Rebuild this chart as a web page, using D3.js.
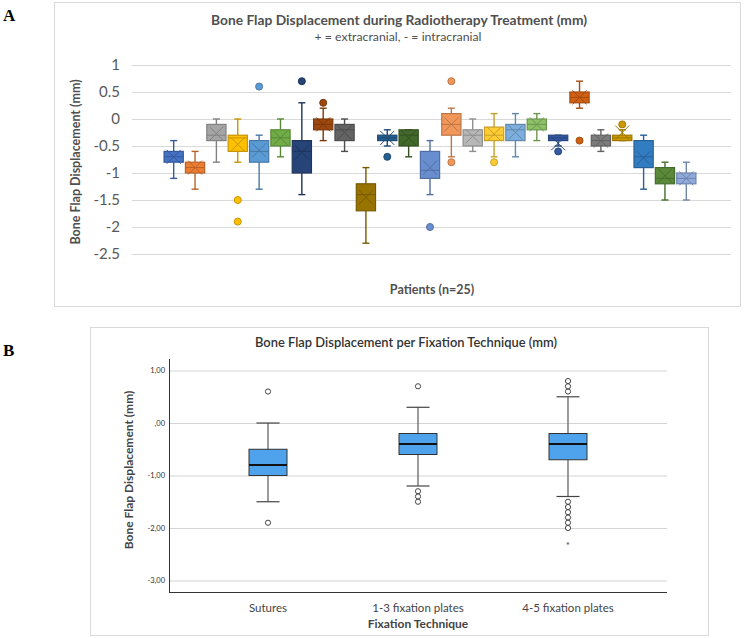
<!DOCTYPE html>
<html lang="en">
<head>
<meta charset="UTF-8">
<title>Bone Flap Displacement</title>
<script src="https://d3js.org/d3.v7.min.js"></script>
<style>
  body { margin: 0; background: #fff; }
  svg { display: block; font-family: Lato, "Open Sans", sans-serif; }
  .panel-letter { font-family: "Liberation Serif", "DejaVu Serif", serif; font-weight: bold; font-size: 17px; fill: #000; }
</style>
</head>
<body>
<svg id="chart" width="745" height="638"></svg>
<script>
// ---- Panel A data: one box per patient ----
const patients = d3.range(1, 26).map(String);
const whiskerLow  = [-1.1, -1.3, -0.8, -0.8, -1.3, -0.7, -1.4, -0.4, -0.6, -2.3, -0.5, -0.7, -1.4, -0.7, -0.6, -0.7, -0.7, -0.4, -0.5, 0.2, -0.6, -0.4, -1.3, -1.5, -1.5];
const q1          = [-0.8, -1.0, -0.4, -0.6, -0.8, -0.5, -1.0, -0.2, -0.4, -1.7, -0.4, -0.5, -1.1, -0.3, -0.5, -0.4, -0.4, -0.2, -0.4, 0.3, -0.5, -0.4, -0.9, -1.2, -1.2];
const medians     = [-0.7, -0.9, -0.3, -0.35, -0.6, -0.35, -0.6, -0.1, -0.2, -1.4, -0.35, -0.3, -0.95, -0.1, -0.3, -0.3, -0.2, -0.1, -0.35, 0.4, -0.4, -0.35, -0.7, -1.1, -1.1];
const q3          = [-0.6, -0.8, -0.1, -0.3, -0.4, -0.2, -0.4, 0, -0.1, -1.2, -0.3, -0.2, -0.6, 0.1, -0.2, -0.15, -0.1, 0, -0.3, 0.5, -0.3, -0.3, -0.4, -0.9, -1.0];
const whiskerHigh = [-0.4, -0.6, 0, 0, -0.3, 0, 0.3, 0.2, 0, -0.9, -0.2, -0.2, -0.4, 0.2, 0, 0.1, 0.1, 0.1, -0.3, 0.7, -0.2, -0.2, -0.3, -0.8, -0.8];
const means       = [-0.7, -0.9, -0.27, -0.47, -0.58, -0.35, -0.62, -0.1, -0.25, -1.45, -0.35, -0.35, -0.9, -0.1, -0.32, -0.28, -0.25, -0.1, -0.45, 0.4, -0.4, -0.25, -0.72, -1.05, -1.1];
const outliersA   = [[], [], [], [-1.5, -1.9], [0.6], [], [0.7], [0.3], [], [], [-0.7], [], [-2.0], [0.7, -0.8], [], [-0.8], [], [], [-0.6], [-0.4], [], [-0.1], [], [], []];
const ticksA = [1, 0.5, 0, -0.5, -1, -1.5, -2, -2.5];

// ---- Panel B data: one box per fixation technique ----
const techniques = ["Sutures", "1-3 fixation plates", "4-5 fixation plates"];
const bLow    = [-1.5, -1.2, -1.4];
const bQ1     = [-1.0, -0.6, -0.7];
const bMedian = [-0.8, -0.4, -0.4];
const bQ3     = [-0.5, -0.2, -0.2];
const bHigh   = [0, 0.3, 0.5];
const bOutliers = [[0.6, -1.9], [0.7, -1.3, -1.4, -1.5], [0.6, 0.7, 0.8, -1.5, -1.6, -1.7, -1.8, -1.9, -2.0]];
const bExtremes = [[], [], [-2.3]];
const ticksB = [1, 0, -1, -2, -3];
const ticksBLabels = ["1,00", ",00", "-1,00", "-2,00", "-3,00"];

const colorsA = ["#4472C4", "#ED7D31", "#A5A5A5", "#FFC000", "#5B9BD5", "#70AD47",
                 "#264478", "#9E480E", "#636363", "#997300", "#255E91", "#43682B",
                 "#698ED0", "#F1975A", "#B7B7B7", "#FFCD33", "#7CAFDD", "#8CC168",
                 "#335AA1", "#D26012", "#7C7C7C", "#CC9A00", "#327DC2", "#5A8A39", "#8FAADC"];

const svg = d3.select("#chart");
svg.append("rect").attr("width", 745).attr("height", 638).attr("fill", "#fff");

// =================== Panel A ===================
const gA = svg.append("g");
gA.append("rect").attr("x", 54.5).attr("y", 2.5).attr("width", 686).attr("height", 304)
  .attr("fill", "#fff").attr("stroke", "#d9d9d9");
svg.append("text").attr("class", "panel-letter").attr("x", 3).attr("y", 21).text("A");

const yA = d3.scaleLinear().domain([-2.5, 1]).range([254, 65]);
const xA = d3.scaleBand().domain(patients).range([163, 697]).paddingInner(0.1).paddingOuter(0.05);

gA.selectAll(".gridA").data(ticksA).enter().append("line")
  .attr("x1", 132).attr("x2", 731)
  .attr("y1", d => yA(d) + 0.5).attr("y2", d => yA(d) + 0.5)
  .attr("stroke", "#d9d9d9").attr("stroke-width", 1);

gA.selectAll(".tickA").data(ticksA).enter().append("text")
  .attr("x", 120).attr("y", d => yA(d)).attr("dy", "0.36em")
  .attr("text-anchor", "end").attr("font-size", 15).attr("fill", "#595959")
  .text(d => d);

gA.append("text").attr("x", 399).attr("y", 25).attr("text-anchor", "middle")
  .attr("font-size", 13.8).attr("font-weight", "bold").attr("fill", "#505050")
  .text("Bone Flap Displacement during Radiotherapy Treatment (mm)");
gA.append("text").attr("x", 398).attr("y", 41).attr("text-anchor", "middle")
  .attr("font-size", 12.3).attr("fill", "#505050")
  .text("+ = extracranial, - = intracranial");
gA.append("text").attr("transform", "translate(80,162) rotate(-90)").attr("text-anchor", "middle")
  .attr("font-size", 12.5).attr("font-weight", "bold").attr("fill", "#505050")
  .text("Bone Flap Displacement (mm)");
gA.append("text").attr("x", 432).attr("y", 294).attr("text-anchor", "middle")
  .attr("font-size", 12.5).attr("font-weight", "bold").attr("fill", "#505050")
  .text("Patients (n=25)");

const bw = xA.bandwidth();
patients.forEach((p, i) => {
  const cx = xA(p) + bw / 2;
  const c = colorsA[i];
  const dark = d3.color(c).darker(0.7).formatHex();
  const g = gA.append("g");
  // whiskers
  g.append("line").attr("x1", cx).attr("x2", cx).attr("y1", yA(whiskerHigh[i])).attr("y2", yA(q3[i]))
    .attr("stroke", dark).attr("stroke-width", 1.4);
  g.append("line").attr("x1", cx).attr("x2", cx).attr("y1", yA(q1[i])).attr("y2", yA(whiskerLow[i]))
    .attr("stroke", dark).attr("stroke-width", 1.4);
  [whiskerHigh[i], whiskerLow[i]].forEach(v => {
    g.append("line").attr("x1", cx - 3.5).attr("x2", cx + 3.5).attr("y1", yA(v)).attr("y2", yA(v))
      .attr("stroke", dark).attr("stroke-width", 1.4);
  });
  // box
  g.append("rect").attr("x", xA(p)).attr("width", bw)
    .attr("y", yA(q3[i])).attr("height", Math.max(yA(q1[i]) - yA(q3[i]), 1))
    .attr("fill", c).attr("stroke", dark).attr("stroke-width", 1.2);
  g.append("line").attr("x1", xA(p)).attr("x2", xA(p) + bw)
    .attr("y1", yA(medians[i])).attr("y2", yA(medians[i]))
    .attr("stroke", dark).attr("stroke-width", 1);
  // mean marker
  const my = yA(means[i]), s = 7;
  g.append("path").attr("d", `M${cx - s},${my - s}L${cx + s},${my + s}M${cx - s},${my + s}L${cx + s},${my - s}`)
    .attr("stroke", dark).attr("stroke-width", 1).attr("fill", "none");
  // outliers
  g.selectAll("circle").data(outliersA[i]).enter().append("circle")
    .attr("cx", cx).attr("cy", d => yA(d)).attr("r", 3.5)
    .attr("fill", c).attr("stroke", dark).attr("stroke-width", 1);
});

// =================== Panel B ===================
const gB = svg.append("g");
gB.append("rect").attr("x", 90.5).attr("y", 327.5).attr("width", 618).attr("height", 308)
  .attr("fill", "#fff").attr("stroke", "#d9d9d9");
svg.append("text").attr("class", "panel-letter").attr("x", 3).attr("y", 356).text("B");

const yB = d3.scaleLinear().domain([-3.22, 1.22]).range([592, 359]);
const xB = d3.scalePoint().domain(techniques).range([169, 667]).padding(0.66);

gB.selectAll(".gridB").data(ticksB).enter().append("line")
  .attr("x1", 169).attr("x2", 667)
  .attr("y1", d => yB(d) + 0.5).attr("y2", d => yB(d) + 0.5)
  .attr("stroke", "#d4d4d4");
gB.selectAll(".tickB").data(ticksB).enter().append("text")
  .attr("x", 165).attr("y", d => yB(d)).attr("dy", "0.35em")
  .attr("text-anchor", "end").attr("font-size", 7.5).attr("fill", "#333")
  .text((d, i) => ticksBLabels[i]);
gB.append("line").attr("x1", 169.5).attr("x2", 169.5).attr("y1", 359).attr("y2", 592).attr("stroke", "#333");
gB.append("line").attr("x1", 169).attr("x2", 667).attr("y1", 592.5).attr("y2", 592.5).attr("stroke", "#333").attr("stroke-width", 1.2);

gB.append("text").attr("x", 406).attr("y", 347).attr("text-anchor", "middle")
  .attr("font-size", 13).attr("font-weight", 600).attr("fill", "#333")
  .attr("textLength", 302).attr("lengthAdjust", "spacingAndGlyphs")
  .text("Bone Flap Displacement per Fixation Technique (mm)");
gB.append("text").attr("transform", "translate(133,470) rotate(-90)").attr("text-anchor", "middle")
  .attr("font-size", 12).attr("font-weight", "bold").attr("fill", "#444")
  .text("Bone Flap Displacement (mm)");
gB.selectAll(".catB").data(techniques).enter().append("text")
  .attr("x", d => xB(d)).attr("y", 612).attr("text-anchor", "middle")
  .attr("font-size", 11.5).attr("fill", "#444").text(d => d);
gB.append("text").attr("x", 418).attr("y", 628).attr("text-anchor", "middle")
  .attr("font-size", 12).attr("font-weight", "bold").attr("fill", "#444")
  .text("Fixation Technique");

const bwB = 38;
techniques.forEach((t, i) => {
  const cx = xB(t);
  const g = gB.append("g");
  g.append("line").attr("x1", cx).attr("x2", cx).attr("y1", yB(bHigh[i])).attr("y2", yB(bLow[i]))
    .attr("stroke", "#666").attr("stroke-width", 1.3);
  [bHigh[i], bLow[i]].forEach(v => {
    g.append("line").attr("x1", cx - 11.5).attr("x2", cx + 11.5).attr("y1", yB(v)).attr("y2", yB(v))
      .attr("stroke", "#444").attr("stroke-width", 1.2);
  });
  g.append("rect").attr("x", cx - bwB / 2).attr("width", bwB)
    .attr("y", yB(bQ3[i])).attr("height", yB(bQ1[i]) - yB(bQ3[i]))
    .attr("fill", "#4FA3EC").attr("stroke", "#333").attr("stroke-width", 1);
  g.append("line").attr("x1", cx - bwB / 2).attr("x2", cx + bwB / 2)
    .attr("y1", yB(bMedian[i])).attr("y2", yB(bMedian[i]))
    .attr("stroke", "#111").attr("stroke-width", 2);
  g.selectAll("circle").data(bOutliers[i]).enter().append("circle")
    .attr("cx", cx).attr("cy", d => yB(d)).attr("r", 2.6)
    .attr("fill", "#fff").attr("stroke", "#444").attr("stroke-width", 1);
  g.selectAll(".ext").data(bExtremes[i]).enter().append("text")
    .attr("x", cx).attr("y", d => yB(d)).attr("dy", "0.5em").attr("text-anchor", "middle")
    .attr("font-size", 10).attr("fill", "#444").text("*");
});
</script>
</body>
</html>
